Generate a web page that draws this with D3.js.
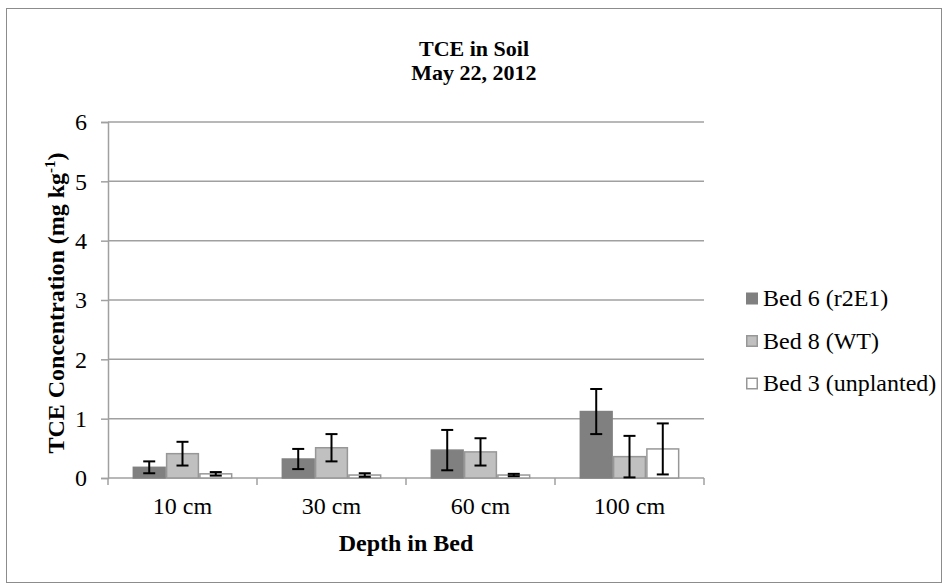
<!DOCTYPE html>
<html>
<head>
<meta charset="utf-8">
<script src="https://cdn.jsdelivr.net/npm/d3@7"></script>
<style>
  body { margin: 0; background: #fff; }
  svg text { font-family: "Liberation Serif", "Times New Roman", serif; fill: #000; }
</style>
</head>
<body>
<div id="chart"></div>
<script>
// Chart data
const depths = ['10 cm', '30 cm', '60 cm', '100 cm'];
const seriesNames = ['Bed 6 (r2E1)', 'Bed 8 (WT)', 'Bed 3 (unplanted)'];
const bed6 = [0.18, 0.32, 0.47, 1.12];
const bed6Err = [0.10, 0.17, 0.34, 0.38];
const bed8 = [0.41, 0.51, 0.44, 0.36];
const bed8Err = [0.20, 0.23, 0.23, 0.35];
const bed3 = [0.07, 0.05, 0.05, 0.49];
const bed3Err = [0.03, 0.03, 0.02, 0.43];
const yTicks = [0, 1, 2, 3, 4, 5, 6];

const fills = ['#808080', '#c0c0c0', '#ffffff'];
const strokes = ['#808080', '#979797', '#979797'];
const gridColor = '#a0a0a0';

const width = 949, height = 584;
const margin = {top: 122, right: 245, bottom: 106, left: 108};

const svg = d3.select('#chart')
    .append('svg')
    .attr('width', width)
    .attr('height', height);

// Outer chart border
svg.append('rect')
    .attr('x', 6.5).attr('y', 8.5)
    .attr('width', 935).attr('height', 574)
    .attr('fill', 'none')
    .attr('stroke', '#8c8c8c')
    .attr('stroke-width', 1);

const x0 = d3.scaleBand()
    .domain(depths)
    .range([margin.left, width - margin.right])
    .paddingInner(0.33)
    .paddingOuter(0.165);

const x1 = d3.scaleBand()
    .domain(seriesNames)
    .range([0, x0.bandwidth()]);

const y = d3.scaleLinear()
    .domain([0, 6])
    .range([height - margin.bottom, margin.top]);

// Gridlines
svg.append('g')
    .selectAll('line')
    .data(yTicks.slice(1))
    .join('line')
    .attr('x1', margin.left)
    .attr('x2', width - margin.right)
    .attr('y1', d => y(d))
    .attr('y2', d => y(d))
    .attr('stroke', gridColor)
    .attr('stroke-width', 1.5);

// Y axis
const yAxis = svg.append('g')
    .attr('transform', `translate(${margin.left},0)`)
    .call(d3.axisLeft(y).tickValues(yTicks).tickFormat(d3.format('d')).tickSize(7).tickPadding(14));
yAxis.select('.domain').attr('stroke', gridColor).attr('stroke-width', 1.5);
yAxis.selectAll('.tick line').attr('stroke', gridColor).attr('stroke-width', 1.5);
yAxis.selectAll('.tick text')
    .attr('font-size', 24)
    .style('font-family', '"Liberation Serif", serif');

// X axis with category-boundary ticks
const xAxisG = svg.append('g')
    .attr('transform', `translate(0,${y(0)})`);
xAxisG.append('line')
    .attr('x1', margin.left).attr('x2', width - margin.right)
    .attr('stroke', gridColor).attr('stroke-width', 1.5);
const boundaries = depths.map(d => x0(d) - x0.step() * x0.paddingInner() / 2)
    .concat([width - margin.right]);
boundaries[0] = margin.left;
xAxisG.selectAll('.xtick')
    .data(boundaries)
    .join('line')
    .attr('class', 'xtick')
    .attr('x1', d => d).attr('x2', d => d)
    .attr('y1', 0).attr('y2', 7)
    .attr('stroke', gridColor).attr('stroke-width', 1.5);
xAxisG.selectAll('.xlabel')
    .data(depths)
    .join('text')
    .attr('class', 'xlabel')
    .attr('x', d => x0(d) + x0.bandwidth() / 2)
    .attr('y', 36)
    .attr('text-anchor', 'middle')
    .attr('font-size', 24)
    .text(d => d);

// Bars
const values = [bed6, bed8, bed3];
const errors = [bed6Err, bed8Err, bed3Err];
const rows = [];
depths.forEach((d, i) => {
    seriesNames.forEach((s, j) => {
        rows.push({depth: d, series: s, j: j, v: values[j][i], e: errors[j][i]});
    });
});

const bars = svg.append('g');
bars.selectAll('rect')
    .data(rows)
    .join('rect')
    .attr('x', d => x0(d.depth) + x1(d.series) + 0.75)
    .attr('y', d => y(d.v))
    .attr('width', x1.bandwidth() - 1.5)
    .attr('height', d => y(0) - y(d.v))
    .attr('fill', d => fills[d.j])
    .attr('stroke', d => strokes[d.j])
    .attr('stroke-width', 1.5);

// Error bars
const errG = svg.append('g')
    .attr('stroke', '#000')
    .attr('stroke-width', 2);
const cx = d => x0(d.depth) + x1(d.series) + x1.bandwidth() / 2;
errG.selectAll('.stem')
    .data(rows)
    .join('line')
    .attr('x1', cx).attr('x2', cx)
    .attr('y1', d => y(d.v + d.e))
    .attr('y2', d => y(Math.max(0, d.v - d.e)));
errG.selectAll('.capTop')
    .data(rows)
    .join('line')
    .attr('x1', d => cx(d) - 6).attr('x2', d => cx(d) + 6)
    .attr('y1', d => y(d.v + d.e))
    .attr('y2', d => y(d.v + d.e));
errG.selectAll('.capBot')
    .data(rows)
    .join('line')
    .attr('x1', d => cx(d) - 6).attr('x2', d => cx(d) + 6)
    .attr('y1', d => y(Math.max(0, d.v - d.e)))
    .attr('y2', d => y(Math.max(0, d.v - d.e)));

// Title
svg.append('text')
    .attr('x', 474).attr('y', 56)
    .attr('text-anchor', 'middle')
    .attr('font-size', 22)
    .attr('font-weight', 'bold')
    .text('TCE in Soil');
svg.append('text')
    .attr('x', 474).attr('y', 80)
    .attr('text-anchor', 'middle')
    .attr('font-size', 22)
    .attr('font-weight', 'bold')
    .text('May 22, 2012');

// Axis titles
const yTitle = svg.append('text')
    .attr('transform', `translate(64,${(y(0) + y(6)) / 2 + 3}) rotate(-90)`)
    .attr('text-anchor', 'middle')
    .attr('font-size', 24)
    .attr('font-weight', 'bold');
yTitle.append('tspan').text('TCE Concentration (mg kg');
yTitle.append('tspan').attr('font-size', 15).attr('dy', -9).text('-1');
yTitle.append('tspan').attr('dy', 9).text(')');

svg.append('text')
    .attr('x', (margin.left + width - margin.right) / 2)
    .attr('y', 551)
    .attr('text-anchor', 'middle')
    .attr('font-size', 24)
    .attr('font-weight', 'bold')
    .text('Depth in Bed');

// Legend
const legend = svg.append('g')
    .attr('transform', 'translate(746,298)');
const item = legend.selectAll('g')
    .data(seriesNames)
    .join('g')
    .attr('transform', (d, i) => `translate(0,${i * 42.5})`);
item.append('rect')
    .attr('x', 0.75).attr('y', -4.75)
    .attr('width', 10.5).attr('height', 10.5)
    .attr('fill', (d, i) => fills[i])
    .attr('stroke', (d, i) => strokes[i])
    .attr('stroke-width', 1.5);
item.append('text')
    .attr('x', 17).attr('y', 8)
    .attr('font-size', 24)
    .text(d => d);
</script>
</body>
</html>
